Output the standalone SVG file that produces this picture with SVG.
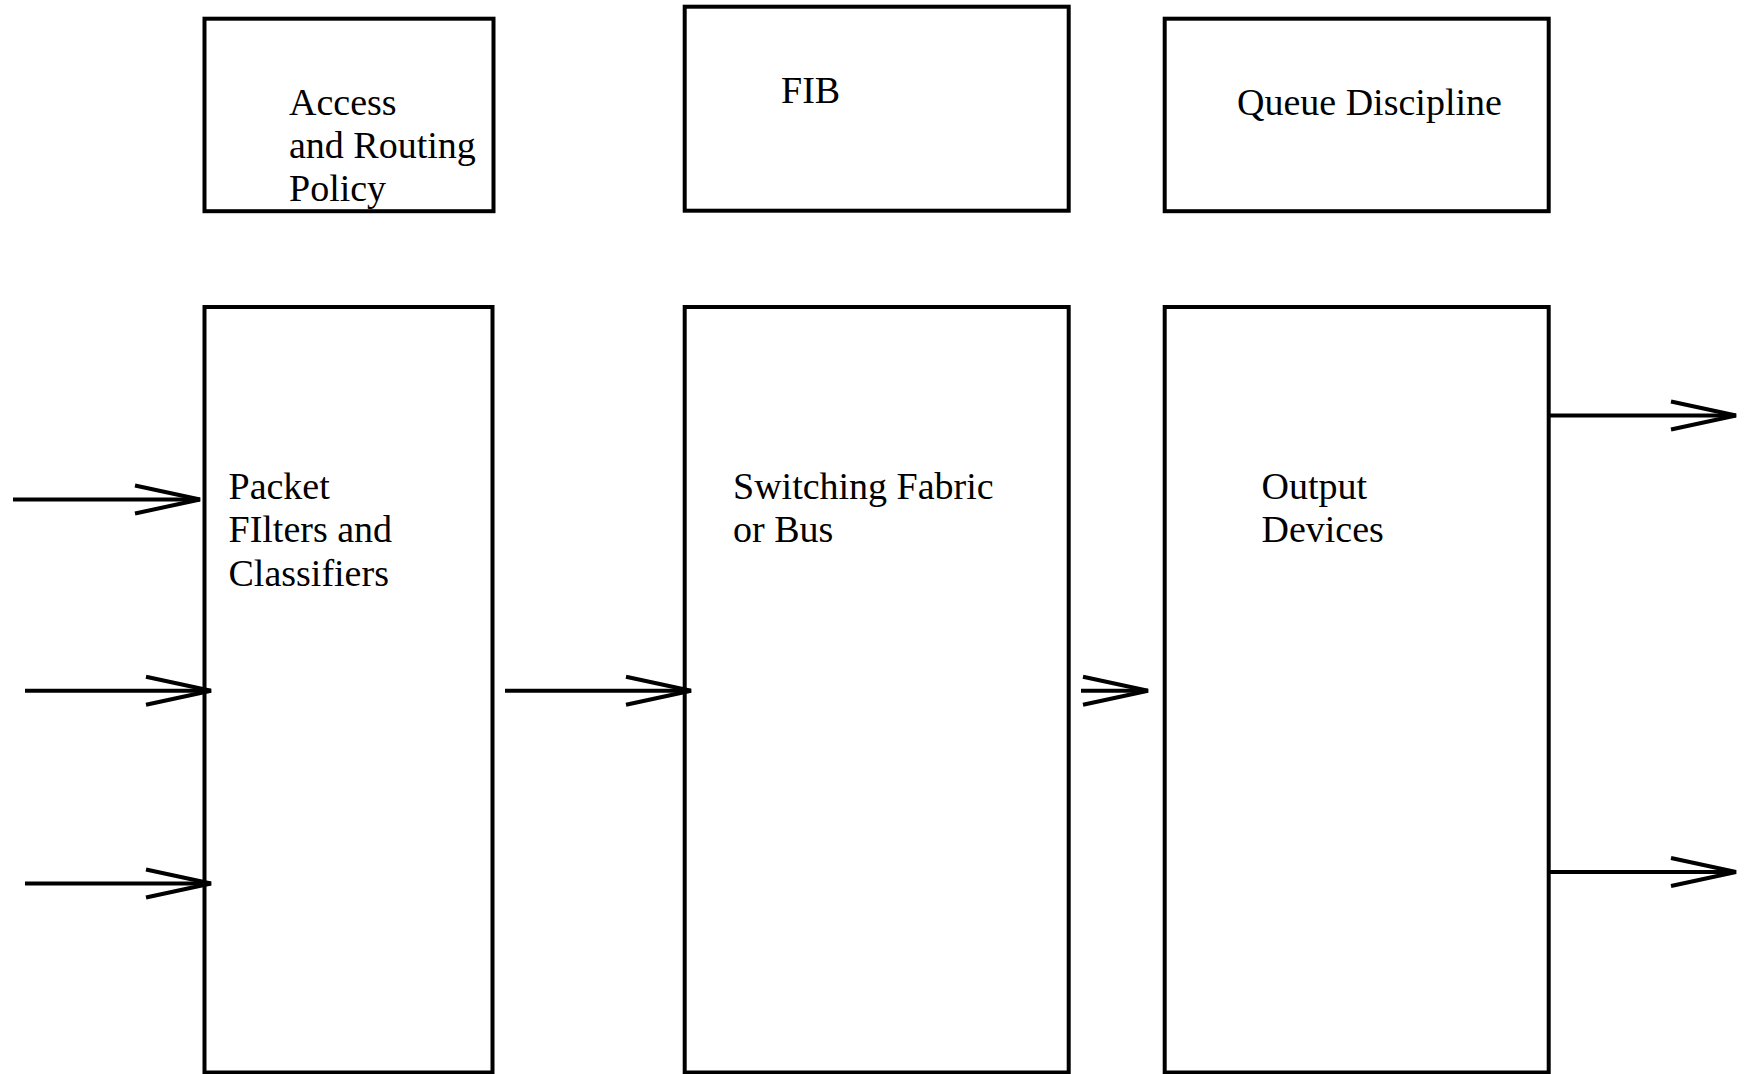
<svg xmlns="http://www.w3.org/2000/svg" width="1744" height="1074" viewBox="0 0 1744 1074">
<style>
.box{fill:#fff;stroke:#000;stroke-width:4}
.lbl{font-family:"Liberation Serif","Times New Roman",serif;font-size:38px;fill:#000}
.conn{stroke:#000;stroke-width:4;fill:none}
</style>
<defs>
<marker id="open" markerUnits="userSpaceOnUse" viewBox="-80 -25 90 50" markerWidth="90" markerHeight="50" refX="0" refY="0" orient="auto" overflow="visible">
<path d="M-65,-14 L0,0 L-65,14" fill="none" stroke="#000" stroke-width="4" stroke-linejoin="miter"/>
</marker>
</defs>
<rect width="1744" height="1074" fill="#fff"/>
<g id="access-policy">
<rect class="box" x="204.5" y="18.7" width="289" height="192.5"/>
<text class="lbl" x="289" y="115">Access</text>
<text class="lbl" x="289" y="158">and Routing</text>
<text class="lbl" x="289" y="201">Policy</text>
</g>
<g id="fib">
<rect class="box" x="684.7" y="6.7" width="384" height="204"/>
<text class="lbl" x="781" y="103">FIB</text>
</g>
<g id="queue-discipline">
<rect class="box" x="1164.7" y="18.7" width="384" height="192.5"/>
<text class="lbl" x="1237" y="115">Queue Discipline</text>
</g>
<g id="packet-filters">
<rect class="box" x="204.5" y="307" width="288" height="765.5"/>
<text class="lbl" x="228.5" y="499">Packet</text>
<text class="lbl" x="228.5" y="542">FIlters and</text>
<text class="lbl" x="228.5" y="586">Classifiers</text>
</g>
<g id="switching-fabric">
<rect class="box" x="684.7" y="307" width="384" height="765.5"/>
<text class="lbl" x="733" y="499">Switching Fabric</text>
<text class="lbl" x="733" y="542">or Bus</text>
</g>
<g id="output-devices">
<rect class="box" x="1164.7" y="307" width="384" height="765.5"/>
<text class="lbl" x="1261.5" y="499">Output</text>
<text class="lbl" x="1261.5" y="542">Devices</text>
</g>
<g id="connectors">
<line class="conn" x1="13" y1="499.5" x2="200" y2="499.5" marker-end="url(#open)"/>
<line class="conn" x1="25" y1="690.7" x2="211" y2="690.7" marker-end="url(#open)"/>
<line class="conn" x1="25" y1="883.5" x2="211" y2="883.5" marker-end="url(#open)"/>
<line class="conn" x1="505" y1="690.7" x2="691" y2="690.7" marker-end="url(#open)"/>
<line class="conn" x1="1081" y1="690.7" x2="1148" y2="690.7" marker-end="url(#open)"/>
<line class="conn" x1="1550" y1="415.5" x2="1736" y2="415.5" marker-end="url(#open)"/>
<line class="conn" x1="1550" y1="872" x2="1736" y2="872" marker-end="url(#open)"/>
</g>
</svg>
